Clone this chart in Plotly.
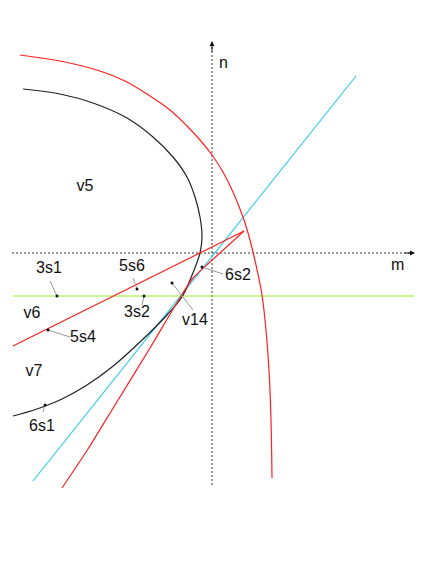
import plotly.graph_objects as go

# curve samples in (m, n) coordinates, origin at the axis crossing
black_m = [-189, -152, -119, -85, -59, -39, -25, -17, -12, -10, -12, -16, -22, -30, -45, -72, -100, -125, -150, -175, -199]
black_n = [164, 159, 150, 135, 116, 96, 76, 56, 36, 16, 0, -12, -27, -44, -62, -89, -114, -132, -146, -156, -163]

red_outer_m = [-192, -152, -112, -87, -62, -42, -25, -12, 0, 11, 21, 31, 38, 44, 50, 54, 57, 59, 60]
red_outer_n = [198, 192, 182, 172, 157, 143, 127, 113, 98, 81, 61, 36, 13, -12, -42, -77, -117, -167, -225]

red_lower_m = [-150, -124, -97, -62, -31, -19, -2, 32]
red_lower_n = [-235, -196, -152, -95, -43, -25, -9, 22]

red_line_m = [-199, 32]
red_line_n = [-93, 22]

cyan_m = [-179, 144]
cyan_n = [-228, 177]

green_m = [-199, 202]
green_n = [-43, -43]

# labels
label_text = ["v5", "3s1", "5s6", "3s2", "v14", "6s2", "v6", "5s4", "v7", "6s1"]
label_m = [-127, -163, -80, -75, -17, 26, -180, -129, -178, -170]
label_n = [66, -16, -14, -60, -68, -23, -61, -85, -119, -174]

# leader lines: (start m, start n, end m, end n), dot at the end
leaders = [
    (-162, -28, -155, -43),
    (-79, -25, -75, -36),
    (-70, -52, -68, -43),
    (-19, -57, -40, -30),
    (11, -21, -10, -14),
    (-142, -84, -164, -77),
    (-169, -159, -167, -152),
]

font = dict(family="Liberation Sans, Arial", size=16, color="#111")

fig = go.Figure()

# dotted axes
fig.add_trace(go.Scatter(x=[0, 0], y=[-232, 208], mode="lines",
                         line=dict(color="#333", width=1, dash="2px,2px")))
fig.add_trace(go.Scatter(x=[-200, 200], y=[0, 0], mode="lines",
                         line=dict(color="#333", width=1, dash="2px,2px")))

fig.add_trace(go.Scatter(x=green_m, y=green_n, mode="lines",
                         line=dict(color="#99ee22", width=1.2)))
fig.add_trace(go.Scatter(x=cyan_m, y=cyan_n, mode="lines",
                         line=dict(color="#33ccf0", width=1.2)))
fig.add_trace(go.Scatter(x=black_m, y=black_n, mode="lines",
                         line=dict(color="#222", width=1.2, shape="spline", smoothing=1)))
fig.add_trace(go.Scatter(x=red_outer_m, y=red_outer_n, mode="lines",
                         line=dict(color="#ff2020", width=1.2, shape="spline", smoothing=1)))
fig.add_trace(go.Scatter(x=red_lower_m, y=red_lower_n, mode="lines",
                         line=dict(color="#ff2020", width=1.2, shape="spline", smoothing=0.6)))
fig.add_trace(go.Scatter(x=red_line_m, y=red_line_n, mode="lines",
                         line=dict(color="#ff2020", width=1.2)))

for m0, n0, m1, n1 in leaders:
    fig.add_trace(go.Scatter(x=[m0, m1], y=[n0, n1], mode="lines",
                             line=dict(color="#999", width=1)))
    fig.add_trace(go.Scatter(x=[m1], y=[n1], mode="markers",
                             marker=dict(color="#111", size=3)))

fig.add_trace(go.Scatter(x=label_m, y=label_n, mode="text", text=label_text,
                         textfont=font))

# axis arrowheads and names
fig.add_annotation(x=0, y=212, ax=0, ay=200, xref="x", yref="y", axref="x", ayref="y",
                   text="", showarrow=True, arrowhead=2, arrowsize=1, arrowwidth=1, arrowcolor="#111")
fig.add_annotation(x=203, y=0, ax=191, ay=0, xref="x", yref="y", axref="x", ayref="y",
                   text="", showarrow=True, arrowhead=2, arrowsize=1, arrowwidth=1, arrowcolor="#111")
fig.add_annotation(x=11, y=191, text="n", showarrow=False, font=font)
fig.add_annotation(x=185, y=-11, text="m", showarrow=False, font=font)

# page body adds an 8px offset, so ranges are shifted to compensate
fig.update_layout(
    width=436, height=564,
    margin=dict(l=0, r=0, t=0, b=0),
    showlegend=False,
    plot_bgcolor="white", paper_bgcolor="white",
)
fig.update_xaxes(range=[-204, 232], visible=False)
fig.update_yaxes(range=[-319, 245], visible=False)

fig.write_html("out.html")
